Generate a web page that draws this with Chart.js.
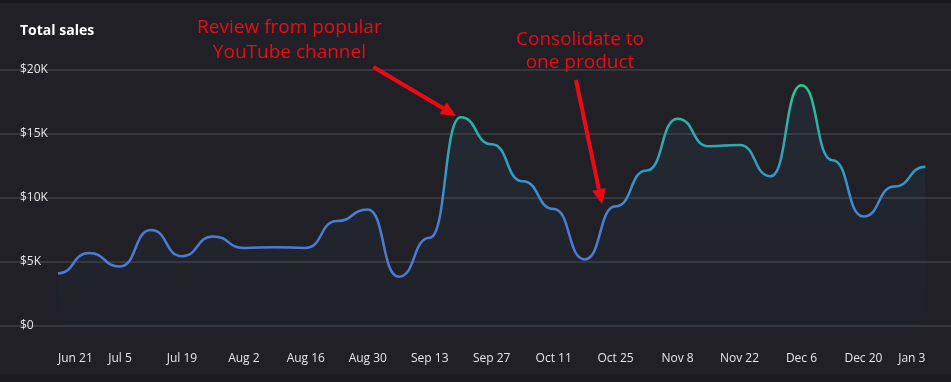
<!DOCTYPE html>
<html>
<head>
<meta charset="utf-8">
<script src="https://cdn.jsdelivr.net/npm/chart.js@4.4.1/dist/chart.umd.min.js"></script>
<style>
  html, body { margin: 0; padding: 0; background: #202026; }
  #wrap { width: 951px; height: 382px; }
  canvas { display: block; }
</style>
</head>
<body>
<div id="wrap"><canvas id="c" width="951" height="382"></canvas></div>
<script>
// ---- Data ----
const weeks = ['Jun 21','Jun 28','Jul 5','Jul 12','Jul 19','Jul 26','Aug 2','Aug 9','Aug 16','Aug 23',
  'Aug 30','Sep 6','Sep 13','Sep 20','Sep 27','Oct 4','Oct 11','Oct 18','Oct 25','Nov 1',
  'Nov 8','Nov 15','Nov 22','Nov 29','Dec 6','Dec 13','Dec 20','Dec 27','Jan 3'];
const totalSales = [4100, 5700, 4650, 7500, 5450, 7000, 6100, 6150, 6100, 8200,
  9100, 3850, 6900, 16300, 14200, 11300, 9150, 5200, 9350, 12150,
  16200, 14050, 14150, 11700, 18800, 12950, 8550, 10900, 12450];
const yTicks = [0, 5000, 10000, 15000, 20000];
const yTickLabels = ['$0', '$5K', '$10K', '$15K', '$20K'];
const titleText = 'Total sales';
// line colour by sales value
const colourStops = [
  [0, '#4c76d8'], [8000, '#4a7cd6'], [11000, '#3a92cf'], [14000, '#2ea7b4'], [16000, '#2cb4a5'], [19000, '#2fc98b']
];
// annotations anchored in data space: [week index, sales value]
const notes = [
  { lines: ['Review from popular', 'YouTube channel'], at: [7.47, 22890], at2: [7.47, 20940],
    tail: [10.18, 20230], tip: [12.85, 16410] },
  { lines: ['Consolidate to', 'one product'], at: [16.85, 21950], at2: [16.85, 20120],
    tail: [16.72, 19220], tip: [17.56, 9530] }
];

const RED = '#ee0a14';
const BG = '#202026';

// horizontal tangents at every point (smooth "step" style curve)
const flatTangents = {
  id: 'flatTangents',
  afterDatasetsUpdate(chart) {
    chart.data.datasets.forEach((ds, i) => {
      const meta = chart.getDatasetMeta(i);
      const line = meta.dataset;
      if (line && line.updateControlPoints) line.updateControlPoints(chart.chartArea, 'x');
      const pts = meta.data;
      const a = 0.55;
      for (let k = 0; k < pts.length; k++) {
        const p = pts[k], prev = pts[k - 1], next = pts[k + 1];
        const dl = prev ? (p.x - prev.x) * a : 0;
        const dr = next ? (next.x - p.x) * a : 0;
        p.cp1x = p.x - dl; p.cp1y = p.y;
        p.cp2x = p.x + dr; p.cp2y = p.y;
      }
    });
  }
};

const backdrop = {
  id: 'backdrop',
  beforeDraw(chart) {
    const { ctx, width, height } = chart;
    ctx.save();
    ctx.fillStyle = BG;
    ctx.fillRect(0, 0, width, height);
    ctx.fillStyle = '#18181c';
    ctx.fillRect(0, 0, width, 3);
    ctx.fillStyle = '#1b1b20';
    ctx.fillRect(0, height - 8, width, 8);
    // grid lines across the full width
    const y = chart.scales.y;
    ctx.fillStyle = '#37373e';
    y.ticks.forEach((t, i) => {
      const py = Math.round(y.getPixelForTick(i));
      ctx.fillRect(0, py - 1, width, 2);
    });
    ctx.restore();
  }
};

const notesPlugin = {
  id: 'notes',
  afterDraw(chart) {
    const { ctx } = chart;
    const xs = chart.scales.x, ys = chart.scales.y;
    const P = (v) => [xs.getPixelForValue(v[0]), ys.getPixelForValue(v[1])];
    ctx.save();
    ctx.fillStyle = RED;
    ctx.strokeStyle = RED;
    ctx.font = '19px "Open Sans"';
    ctx.textAlign = 'center';
    ctx.textBaseline = 'alphabetic';
    notes.forEach(n => {
      const a = P(n.at), b = P(n.at2);
      ctx.fillText(n.lines[0], a[0], a[1]);
      ctx.fillText(n.lines[1], b[0], b[1]);
      const t = P(n.tail), h = P(n.tip);
      const ang = Math.atan2(h[1] - t[1], h[0] - t[0]);
      const headLen = 15, headW = 7;
      const bx = h[0] - headLen * Math.cos(ang), by = h[1] - headLen * Math.sin(ang);
      ctx.lineWidth = 4;
      ctx.lineCap = 'butt';
      ctx.beginPath();
      ctx.moveTo(t[0], t[1]);
      ctx.lineTo(bx, by);
      ctx.stroke();
      ctx.beginPath();
      ctx.moveTo(h[0], h[1]);
      ctx.lineTo(bx + headW * Math.sin(ang), by - headW * Math.cos(ang));
      ctx.lineTo(bx - headW * Math.sin(ang), by + headW * Math.cos(ang));
      ctx.closePath();
      ctx.fill();
    });
    ctx.restore();
  }
};

function lineGradient(context) {
  const chart = context.chart;
  const ys = chart.scales.y;
  if (!chart.chartArea || !ys) return '#4a7cd6';
  const y0 = ys.getPixelForValue(0), y1 = ys.getPixelForValue(20000);
  const g = chart.ctx.createLinearGradient(0, y0, 0, y1);
  colourStops.forEach(([v, c]) => g.addColorStop(Math.min(1, v / 20000), c));
  return g;
}
function fillGradient(context) {
  const chart = context.chart;
  const area = chart.chartArea;
  if (!area) return 'rgba(0,0,0,0)';
  const g = chart.ctx.createLinearGradient(0, area.top, 0, area.bottom);
  g.addColorStop(0, 'rgba(50,85,115,0.20)');
  g.addColorStop(1, 'rgba(50,85,115,0.02)');
  return g;
}

Chart.defaults.font.family = '"Open Sans", sans-serif';

new Chart(document.getElementById('c'), {
  type: 'line',
  data: {
    labels: weeks,
    datasets: [{
      data: totalSales,
      borderColor: lineGradient,
      backgroundColor: fillGradient,
      fill: 'origin',
      borderWidth: 2.5,
      tension: 0.4,
      pointRadius: 0,
      pointHoverRadius: 0
    }]
  },
  options: {
    responsive: false,
    devicePixelRatio: 1,
    animation: false,
    events: [],
    layout: { padding: { left: 20, right: 24, top: 0, bottom: 16 } },
    plugins: {
      legend: { display: false },
      tooltip: { enabled: false },
      title: {
        display: true, text: titleText, align: 'start', color: '#ffffff',
        font: { family: '"Open Sans"', size: 14, weight: 'bold' },
        padding: { top: 23, bottom: 30.2 }
      }
    },
    scales: {
      x: {
        type: 'category',
        offset: false,
        grid: { display: false, drawTicks: false },
        border: { display: false },
        afterFit: (s) => { s.height = 40; },
        ticks: {
          autoSkip: false, maxRotation: 0, align: 'inner', padding: 25.6,
          color: '#e6e6e6', font: { size: 12 },
          callback: (v, i) => (i % 2 === 0 ? weeks[i] : '')
        }
      },
      y: {
        min: 0, max: 20000,
        afterBuildTicks: (s) => { s.ticks = yTicks.map(v => ({ value: v })); },
        afterFit: (s) => { s.width = 38; },
        grid: { display: false, drawTicks: false },
        border: { display: false },
        ticks: {
          crossAlign: 'far', padding: 8, color: '#e6e6e6', font: { size: 12 },
          callback: (v) => yTickLabels[yTicks.indexOf(v)]
        }
      }
    }
  },
  plugins: [flatTangents, backdrop, notesPlugin]
});
</script>
</body>
</html>
